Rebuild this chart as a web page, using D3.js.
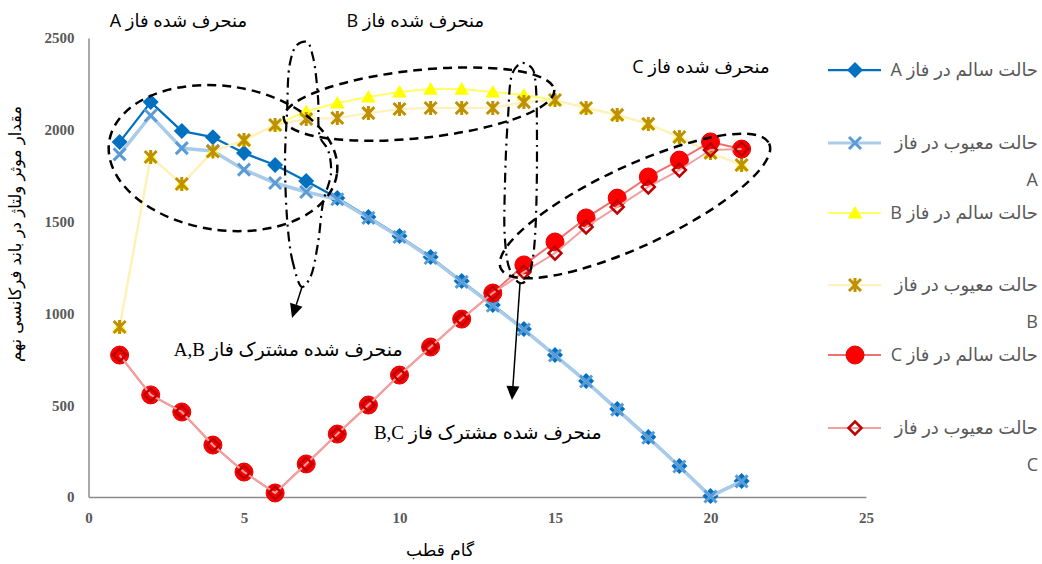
<!DOCTYPE html>
<html><head><meta charset="utf-8">
<script src="https://cdn.jsdelivr.net/npm/d3@7/dist/d3.min.js"></script>
<style>
html,body{margin:0;padding:0;background:#fff;}
svg{display:block;}
</style></head>
<body>
<svg id="chart" width="1042" height="564"></svg>
<script>
// ---------- DATA ----------
const steps = [1,2,3,4,5,6,7,8,9,10,11,12,13,14,15,16,17,18,19,20,21];
const aHealthy = [1933,2151,1993,1960,1873,1808,1721,1628,1525,1421,1307,1176,1046,915,773,632,479,327,169,5,87];
const aFaulty  = [1866,2078,1900,1885,1783,1710,1661,1622,1520,1416,1302,1172,1042,912,771,629,476,323,166,3,85];
const bHealthy = [926,1852,1705,1882,1944,2026,2100,2146,2179,2206,2222,2222,2206,2190,2162,2119,2081,2032,1961,1874,1808];
const bFaulty  = [926,1852,1705,1882,1944,2026,2059,2064,2091,2113,2119,2119,2119,2151,2162,2119,2081,2032,1961,1874,1808];
const cHealthy = [773,556,463,283,136,22,180,343,501,664,817,969,1111,1264,1389,1520,1628,1743,1835,1934,1895];
const cFaulty  = [773,556,463,283,136,22,180,343,501,664,817,969,1111,1225,1328,1471,1580,1689,1781,1890,1895];
const xTicks = [0,5,10,15,20,25];
const yTicks = [0,500,1000,1500,2000,2500];
const seriesNames = ["حالت سالم در فاز A","حالت معیوب در فاز","حالت سالم در فاز B","حالت معیوب در فاز","حالت سالم در فاز C","حالت معیوب در فاز"];
const seriesSuffix = ["","A","","B","","C"];
const xTitle = "گام قطب";
const yTitle = "مقدار موثر ولتاژ در باند فرکانسی نهم";
// annotation texts and anchor points (data units)
const noteTexts = ["منحرف شده فاز A","منحرف شده فاز B","منحرف شده فاز C","منحرف شده مشترک فاز A,B","منحرف شده مشترک فاز B,C"];
const noteX = [5.10, 12.72, 21.90, 10.10, 16.50];
const noteY = [2560, 2560, 2309, 768, 316];
// ellipse centres (data units)
const ellCx = [4.325, 10.627, 17.572];
const ellCy = [1846, 2140, 1585];
// dash-dot loops (data units)
const loop1X = [6.865,6.576,6.415,6.318,6.383,6.479,6.704,7.026,7.219,7.379,7.444,7.701,7.797,7.540,7.379,7.122,6.865];
const loop1Y = [1144,1274,1454,1819,2091,2364,2462,2478,2396,2178,1961,1890,1765,1601,1383,1193,1144];
const loop2X = [13.875,13.553,13.392,13.392,13.489,13.650,13.939,14.260,14.357,14.421,14.357,14.260,14.100,13.875];
const loop2Y = [1165,1236,1400,1710,2069,2315,2364,2336,2282,1890,1416,1274,1182,1165];
const arrowFromX = [6.865, 13.875];
const arrowFromY = [1144, 1165];
const arrowToX = [6.543, 13.617];
const arrowToY = [975, 528];

// ---------- CHART ----------
const svg = d3.select("#chart");
const x = d3.scaleLinear().domain([0,25]).range([88.5,866]);
const y = d3.scaleLinear().domain([0,2500]).range([497,38]);

const axisColor = "#8C8C8C";
const tickFont = "'Liberation Serif','Times New Roman',serif";

const gx = svg.append("g").attr("transform","translate(0,497)")
  .call(d3.axisBottom(x).tickValues(xTicks).tickSize(0).tickPadding(15).tickFormat(d3.format("d")));
const gy = svg.append("g").attr("transform","translate(88.5,0)")
  .call(d3.axisLeft(y).tickValues(yTicks).tickSize(0).tickPadding(14).tickFormat(d3.format("d")));
[gx,gy].forEach(g=>{
  g.select(".domain").attr("stroke",axisColor).attr("stroke-width",1.5);
  g.selectAll("text").attr("font-family",tickFont).attr("font-weight","bold")
    .attr("font-size",15).attr("fill","#595959");
});

// axis titles
svg.append("text").attr("x",440).attr("y",556).attr("text-anchor","middle")
  .attr("font-family","'DejaVu Sans',sans-serif").attr("font-size",17).attr("fill","#000")
  .attr("direction","rtl").text(xTitle);
svg.append("text").attr("transform","translate(21,234) rotate(-90)").attr("text-anchor","middle")
  .attr("font-family","'DejaVu Sans',sans-serif").attr("font-size",16.5).attr("fill","#000")
  .attr("direction","rtl").text(yTitle);

// marker shapes
function diamondPath(h){return `M0,${-h}L${h},0L0,${h}L${-h},0Z`;}
function xPath(h){return `M${-h},${-h}L${h},${h}M${-h},${h}L${h},${-h}`;}
function starPath(h){return `M${-h},${-h}L${h},${h}M${-h},${h}L${h},${-h}M0,${-h-1}L0,${h+1}`;}
function triPath(h){return `M0,${-h}L${h*1.05},${h*0.8}L${-h*1.05},${h*0.8}Z`;}

const series = [
  {vals:aHealthy, line:"#0070C0", lw:2.25, mk:"diamond", h:8, fill:"#0070C0", stroke:"none", sw:0},
  {vals:aFaulty,  line:"#A9CBEA", lw:3.5, mk:"x", h:6, fill:"none", stroke:"#5B9BD5", sw:3},
  {vals:bHealthy, line:"#FFFF66", lw:2, mk:"tri", h:7, fill:"#FFFF00", stroke:"none", sw:0},
  {vals:bFaulty,  line:"#FFF0C0", lw:2.25, mk:"star", h:6, fill:"none", stroke:"#BF9000", sw:3},
  {vals:cHealthy, line:"#F07070", lw:2, mk:"circle", h:9, fill:"#FF0000", stroke:"#E60000", sw:1},
  {vals:cFaulty,  line:"#F3A0A0", lw:2, mk:"odiamond", h:6.5, fill:"none", stroke:"#C00000", sw:2.5}
];
function markerD(s,h){
  if(s.mk==="diamond"||s.mk==="odiamond") return diamondPath(h);
  if(s.mk==="x") return xPath(h);
  if(s.mk==="star") return starPath(h);
  if(s.mk==="tri") return triPath(h);
  return null;
}
function drawMarker(g,s,px,py,h){
  if(s.mk==="circle"){
    g.append("circle").attr("cx",px).attr("cy",py).attr("r",h)
      .attr("fill",s.fill).attr("stroke",s.stroke).attr("stroke-width",s.sw);
  } else {
    g.append("path").attr("d",markerD(s,h)).attr("transform",`translate(${px},${py})`)
      .attr("fill",s.fill).attr("stroke",s.stroke).attr("stroke-width",s.sw)
      .attr("stroke-linejoin","miter");
  }
}
const line = d3.line().x((d,i)=>x(steps[i])).y(d=>y(d));
const plot = svg.append("g");
series.forEach(s=>{
  const g = plot.append("g");
  g.append("path").datum(s.vals).attr("d",line).attr("fill","none")
    .attr("stroke",s.line).attr("stroke-width",s.lw).attr("stroke-linejoin","round");
  s.vals.forEach((v,i)=>drawMarker(g,s,x(steps[i]),y(v),s.h));
});

// ---------- ANNOTATIONS ----------
const ann = svg.append("g");
const ellRx = [115,136,148], ellRy = [72,34,40], ellRot = [8,-6,-25];
ellCx.forEach((cx,i)=>{
  ann.append("ellipse").attr("cx",0).attr("cy",0).attr("rx",ellRx[i]).attr("ry",ellRy[i])
    .attr("transform",`translate(${x(cx)},${y(ellCy[i])}) rotate(${ellRot[i]})`)
    .attr("fill","none").attr("stroke","#000").attr("stroke-width",2.5).attr("stroke-dasharray","9,6");
});
const loopLine = d3.line().x(d=>x(d[0])).y(d=>y(d[1])).curve(d3.curveCatmullRomClosed);
[[loop1X,loop1Y],[loop2X,loop2Y]].forEach(([lx,ly])=>{
  const pts = lx.slice(0,-1).map((v,i)=>[v,ly[i]]);
  ann.append("path").datum(pts).attr("d",loopLine).attr("fill","none")
    .attr("stroke","#000").attr("stroke-width",2.2).attr("stroke-dasharray","10,5,2,5");
});
arrowFromX.forEach((fx,i)=>{
  const x1=x(fx), y1=y(arrowFromY[i]), x2=x(arrowToX[i]), y2=y(arrowToY[i]);
  const ang = Math.atan2(y2-y1,x2-x1);
  const L=14, Wd=6.5;
  const bx = x2-L*Math.cos(ang), by=y2-L*Math.sin(ang);
  ann.append("line").attr("x1",x1).attr("y1",y1).attr("x2",bx).attr("y2",by)
    .attr("stroke","#000").attr("stroke-width",1.5);
  ann.append("path").attr("d",`M${x2},${y2}L${bx+Wd*Math.sin(ang)},${by-Wd*Math.cos(ang)}L${bx-Wd*Math.sin(ang)},${by+Wd*Math.cos(ang)}Z`)
    .attr("fill","#000");
});
noteTexts.forEach((t,i)=>{
  const serif = i>=3;
  ann.append("text").attr("x",x(noteX[i])).attr("y",y(noteY[i]))
    .attr("direction","rtl").attr("text-anchor","start")
    .attr("font-family", serif ? "'Liberation Serif','DejaVu Sans',serif" : "'Open Sans','DejaVu Sans',sans-serif")
    .attr("font-size", serif?19:18).attr("fill","#000").text(t);
});

// ---------- LEGEND ----------
const legY = [70,143,213,285,355,428];
const leg = svg.append("g");
series.forEach((s,i)=>{
  const g = leg.append("g");
  g.append("line").attr("x1",828).attr("x2",881).attr("y1",legY[i]).attr("y2",legY[i])
    .attr("stroke",s.line).attr("stroke-width",s.lw===3.5?3:s.lw);
  drawMarker(g,s,855,legY[i],s.h);
  g.append("text").attr("x",1038).attr("y",legY[i]+6).attr("direction","rtl").attr("text-anchor","start")
    .attr("font-family","'Open Sans','DejaVu Sans',sans-serif").attr("font-size",18).attr("fill","#595959")
    .text(seriesNames[i]);
  if(seriesSuffix[i]){
    g.append("text").attr("x",1038).attr("y",legY[i]+43).attr("text-anchor","end")
      .attr("font-family","'Open Sans','DejaVu Sans',sans-serif").attr("font-size",18).attr("fill","#595959")
      .text(seriesSuffix[i]);
  }
});
</script>
</body></html>
